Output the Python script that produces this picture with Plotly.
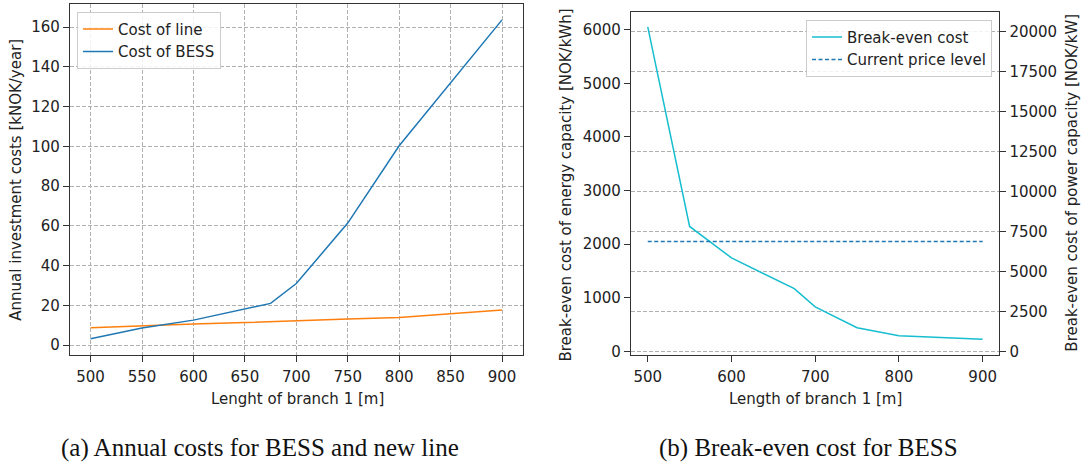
import plotly.graph_objects as go

# Branch lengths [m]
length_a = [500, 550, 600, 650, 675, 700, 750, 800, 850, 900]
cost_line = [8.8, 9.8, 10.6, 11.4, 11.9, 12.3, 13.1, 13.9, 15.9, 17.7]
cost_bess = [3.2, 8.6, 12.6, 18.4, 21.0, 31.0, 61.4, 100.3, 131.9, 163.6]

length_b = [500, 550, 600, 650, 675, 700, 750, 800, 850, 900]
breakeven_energy = [6050, 2330, 1745, 1360, 1170, 830, 442, 294, 258, 226]
price_x = [500, 900]
price_level = [2050, 2050]

tick_a = [500, 550, 600, 650, 700, 750, 800, 850, 900]
tick_b = [500, 600, 700, 800, 900]

W, H = 1085, 470
FONT = "DejaVu Sans"
GRID = "#b0b0b0"
AX = "#333333"
FS = 15


def px(x):
    return x / W


def py(y):
    return 1 - y / H


fig = go.Figure()

fig.add_trace(go.Scatter(x=length_a, y=cost_line, mode="lines", name="Cost of line",
                         line=dict(color="#ff7f0e", width=1.5), xaxis="x", yaxis="y",
                         legend="legend"))
fig.add_trace(go.Scatter(x=length_a, y=cost_bess, mode="lines", name="Cost of BESS",
                         line=dict(color="#1f77b4", width=1.5), xaxis="x", yaxis="y",
                         legend="legend"))

fig.add_trace(go.Scatter(x=length_b, y=breakeven_energy, mode="lines", name="Break-even cost",
                         line=dict(color="#17becf", width=1.5), xaxis="x2", yaxis="y2",
                         legend="legend2"))
fig.add_trace(go.Scatter(x=price_x, y=price_level, mode="lines", name="Current price level",
                         line=dict(color="#1f77b4", width=1.5, dash="4px,2.5px"),
                         xaxis="x2", yaxis="y2", legend="legend2"))
# empty trace so the right-hand power axis is drawn
fig.add_trace(go.Scatter(x=[], y=[], mode="lines", showlegend=False, xaxis="x2", yaxis="y3"))

tick_font = dict(family=FONT, size=FS, color="#222")
axis_common = dict(showline=True, linecolor=AX, linewidth=1.3, mirror=True, ticks="outside",
                   ticklen=6, tickcolor=AX, tickwidth=1.2, zeroline=False, tickfont=tick_font)

top_a, top_b, bottom = 4, 12.3, 359.3

fig.update_layout(
    width=W, height=H, margin=dict(l=0, r=0, t=0, b=0),
    paper_bgcolor="white", plot_bgcolor="white",
    xaxis=dict(domain=[px(70), px(522.6)], range=[480, 920], tickvals=tick_a,
               showgrid=True, gridcolor=GRID, griddash="4px,2px", gridwidth=1,
               ticklabelstandoff=2, anchor="y", **axis_common),
    yaxis=dict(domain=[py(bottom), py(top_a)], range=[-4.8, 171.6], dtick=20,
               showgrid=True, gridcolor=GRID, griddash="4px,2px", gridwidth=1,
               anchor="x", **axis_common),
    xaxis2=dict(domain=[px(631), px(999.4)], range=[480, 920], tickvals=tick_b,
                showgrid=False, ticklabelstandoff=2, anchor="y2", **axis_common),
    yaxis2=dict(domain=[py(bottom), py(top_b)], range=[-61, 6326], dtick=1000,
                showgrid=False, anchor="x2", **axis_common),
    yaxis3=dict(range=[-203, 21195], dtick=2500, tickformat="d", overlaying="y2",
                side="right", anchor="x2", showline=False, showgrid=True, gridcolor=GRID,
                griddash="4px,2px", gridwidth=1, ticks="outside", ticklen=6,
                tickcolor=AX, tickwidth=1.2, zeroline=False, tickfont=tick_font),
    legend=dict(x=px(77), y=py(12), xanchor="left", yanchor="top",
                bgcolor="rgba(255,255,255,0.85)", bordercolor="#cccccc", borderwidth=1,
                font=dict(family=FONT, size=FS, color="#222")),
    legend2=dict(x=px(992), y=py(20), xanchor="right", yanchor="top",
                 bgcolor="rgba(255,255,255,0.85)", bordercolor="#cccccc", borderwidth=1,
                 font=dict(family=FONT, size=FS, color="#222")),
)

title_font = dict(family=FONT, size=FS, color="#222")
cap_font = dict(family="Liberation Serif", size=25, color="#111")
annotations = [
    dict(text="Annual investment costs [kNOK/year]", x=px(16), y=py(182), textangle=-90,
         font=title_font),
    dict(text="Lenght of branch 1 [m]", x=px(297), y=py(404), font=title_font),
    dict(text="Break-even cost of energy capacity [NOK/kWh]", x=px(566), y=py(188),
         textangle=-90, font=title_font),
    dict(text="Break-even cost of power capacity [NOK/kW]", x=px(1072), y=py(185),
         textangle=-90, font=title_font),
    dict(text="Length of branch 1 [m]", x=px(815), y=py(404), font=title_font),
    dict(text="(a) Annual costs for BESS and new line", x=px(260), y=py(454), font=cap_font),
    dict(text="(b) Break-even cost for BESS", x=px(808), y=py(454), font=cap_font),
]
for a in annotations:
    a.update(xref="paper", yref="paper", showarrow=False, xanchor="center", yanchor="middle")
fig.update_layout(annotations=annotations)

fig.write_html("out.html")
